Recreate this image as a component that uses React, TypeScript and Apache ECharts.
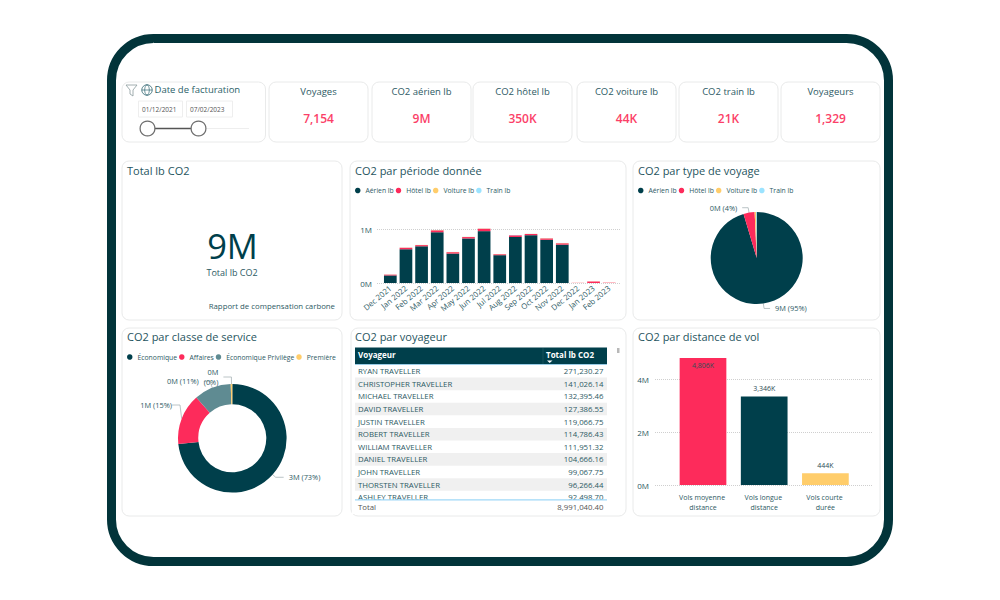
import React, { useEffect, useRef } from "react";
import * as echarts from "echarts";

const FONT = "'Open Sans', sans-serif";
const DARK = "#003f4b";
const PINK = "#fd2b5b";
const GOLD = "#ffcd6b";
const SKY = "#9be3ff";
const SLATE = "#5f8b92";
const TXT = "#2d5a64";
const FRAME = "#02343a";

const kpiNames = ["Voyages", "CO2 aérien lb", "CO2 hôtel lb", "CO2 voiture lb", "CO2 train lb", "Voyageurs"];
const kpiValues = ["7,154", "9M", "350K", "44K", "21K", "1,329"];
const kpiLefts = [269, 372, 473, 577, 679, 781];

const months = ["Dec 2021", "Jan 2022", "Feb 2022", "Mar 2022", "Apr 2022", "May 2022", "Jun 2022", "Jul 2022", "Aug 2022", "Sep 2022", "Oct 2022", "Nov 2022", "Dec 2022", "Jan 2023", "Feb 2023"];
const airM = [0.14, 0.625, 0.68, 0.94, 0.545, 0.825, 0.96, 0.515, 0.85, 0.885, 0.8, 0.71, 0, 0, 0];
const hotelM = [0.015, 0.028, 0.022, 0.036, 0.026, 0.026, 0.045, 0.018, 0.032, 0.022, 0.026, 0.026, 0.003, 0.028, 0.006];
const carM = [0.002, 0.003, 0.003, 0.004, 0.003, 0.003, 0.004, 0.003, 0.003, 0.003, 0.004, 0.004, 0.001, 0.001, 0.001];
const trainM = [0.001, 0.002, 0.001, 0.002, 0.002, 0.002, 0.002, 0.001, 0.002, 0.002, 0.002, 0.002, 0, 0, 0];

const tripNames = ["Aérien lb", "Hôtel lb", "Voiture lb", "Train lb"];
const tripValues = [8.576, 0.35, 0.044, 0.021];

const classNames = ["Économique", "Affaires", "Économique Privilège", "Première"];
const classValues = [2.85, 0.59, 0.43, 0.018];

const distNames = ["Vols moyenne distance", "Vols longue distance", "Vols courte durée"];
const distValues = [4.806, 3.346, 0.444];

const travellers = ["RYAN TRAVELLER", "CHRISTOPHER TRAVELLER", "MICHAEL TRAVELLER", "DAVID TRAVELLER", "JUSTIN TRAVELLER", "ROBERT TRAVELLER", "WILLIAM TRAVELLER", "DANIEL TRAVELLER", "JOHN TRAVELLER", "THORSTEN TRAVELLER", "ASHLEY TRAVELLER"];
const travellerCO2 = ["271,230.27", "141,026.14", "132,395.46", "127,386.55", "119,066.75", "114,786.43", "111,951.32", "104,666.16", "99,067.75", "96,266.44", "92,498.70"];

const txt = (text: string, x: number, y: number, o: any = {}) => ({
  type: "text", x, y, z: o.z ?? 10,
  style: { text, fill: o.fill ?? TXT, fontFamily: FONT, fontSize: o.size ?? 8, fontWeight: o.weight ?? "normal", align: o.align ?? "left", verticalAlign: "middle", lineHeight: o.lineHeight },
});
const card = (x: number, y: number, w: number, h: number) => ({
  type: "rect", z: -5, shape: { x, y, width: w, height: h, r: 7 },
  style: { fill: "#fff", stroke: "#e9eaea", lineWidth: 1 },
});

function buildGraphic() {
  const els: any[] = [];
  els.push({ type: "rect", z: -10, shape: { x: 111.5, y: 38.5, width: 777, height: 523, r: 42 }, style: { fill: "#fff", stroke: FRAME, lineWidth: 9 } });
  els.push(card(122, 82, 143.5, 60));
  kpiNames.forEach((n, i) => {
    const x = kpiLefts[i];
    els.push(card(x, 82, 99, 60));
    els.push(txt(n, x + 49.5, 91, { align: "center", size: 9.5 }));
    els.push(txt(kpiValues[i], x + 49.5, 118.5, { align: "center", size: 12, fill: "#fb3f68", weight: 600 }));
  });
  els.push(card(122, 161, 220, 159), card(350, 161, 276, 159), card(633, 161, 247, 159));
  els.push(card(122, 328, 220, 188), card(351, 328, 275, 188), card(633, 328, 247, 188));

  // filter slicer
  els.push({ type: "polygon", z: 10, shape: { points: [[126, 85], [137, 85], [133, 90], [133, 96], [130, 94], [130, 90]] }, style: { fill: "#fff", stroke: "#8a9a9d", lineWidth: 0.8 } });
  els.push({ type: "circle", z: 10, shape: { cx: 147, cy: 90, r: 5.2 }, style: { fill: "#fff", stroke: "#356a75", lineWidth: 0.9 } });
  els.push({ type: "ellipse", z: 10, shape: { cx: 147, cy: 90, rx: 2.3, ry: 5.2 }, style: { fill: "none", stroke: "#356a75", lineWidth: 0.7 } });
  els.push({ type: "line", z: 10, shape: { x1: 142, y1: 90, x2: 152, y2: 90 }, style: { stroke: "#356a75", lineWidth: 0.7 } });
  els.push(txt("Date de facturation", 154.5, 89.5, { size: 9.5, fill: "#2b5f69", weight: 500 }));
  els.push({ type: "rect", z: 10, shape: { x: 138.5, y: 101, width: 44, height: 16 }, style: { fill: "#fff", stroke: "#eeeeee", lineWidth: 1 } });
  els.push({ type: "rect", z: 10, shape: { x: 186.5, y: 101, width: 46, height: 16 }, style: { fill: "#fff", stroke: "#eeeeee", lineWidth: 1 } });
  els.push(txt("01/12/2021", 142, 109.5, { size: 6.5, fill: "#555" }));
  els.push(txt("07/02/2023", 190, 109.5, { size: 6.5, fill: "#555" }));
  els.push({ type: "line", z: 10, shape: { x1: 147, y1: 128.5, x2: 249, y2: 128.5 }, style: { stroke: "#eeeeee", lineWidth: 1.2 } });
  els.push({ type: "line", z: 10, shape: { x1: 147, y1: 128.5, x2: 198, y2: 128.5 }, style: { stroke: "#555", lineWidth: 1.4 } });
  [147.5, 198.5].forEach((cx) => els.push({ type: "circle", z: 11, shape: { cx, cy: 128.5, r: 7.4 }, style: { fill: "#fff", stroke: "#6b6b6b", lineWidth: 1.2 } }));

  // total card
  els.push(txt("9M", 232.5, 245, { size: 34.5, align: "center", fill: DARK, weight: 500, lineHeight: 28 }));
  els.push(txt("Total lb CO2", 232, 272.5, { size: 9, align: "center" }));
  els.push(txt("Rapport de compensation carbone", 335, 305.5, { size: 7.8, align: "right" }));

  // table
  els.push({ type: "rect", z: 9, shape: { x: 355, y: 347.5, width: 252, height: 17 }, style: { fill: DARK } });
  els.push({ type: "line", z: 9, shape: { x1: 355, y1: 364.5, x2: 607, y2: 364.5 }, style: { stroke: "#9fd8f7", lineWidth: 0.8 } });
  els.push({ type: "line", z: 10, shape: { x1: 543, y1: 348, x2: 543, y2: 364 }, style: { stroke: "#1d5560", lineWidth: 0.8 } });
  els.push(txt("Voyageur", 358, 354, { size: 8, fill: "#fff", weight: 700 }));
  els.push(txt("Total lb CO2", 546, 354, { size: 8, fill: "#fff", weight: 700 }));
  els.push({ type: "polygon", z: 10, shape: { points: [[547, 360.5], [552.5, 360.5], [549.7, 363]] }, style: { fill: "#fff" } });
  travellers.forEach((n, i) => {
    const y = 371.3 + i * 12.58;
    if (i % 2 === 1) els.push({ type: "rect", z: 8, shape: { x: 355, y: y - 6.3, width: 252, height: 12.6 }, style: { fill: "#f0f0f0" } });
    els.push(txt(n, 358, y, { size: 7.8 }));
    els.push(txt(travellerCO2[i], 603.5, y, { size: 7.8, align: "right" }));
  });
  els.push({ type: "rect", z: 12, shape: { x: 352, y: 500, width: 260, height: 14 }, style: { fill: "#fff" } });
  els.push({ type: "line", z: 13, shape: { x1: 355, y1: 499.8, x2: 607, y2: 499.8 }, style: { stroke: "#9fd8f7", lineWidth: 1.2 } });
  els.push(txt("Total", 358, 507, { size: 7.8, fill: "#555", z: 13 }));
  els.push(txt("8,991,040.40", 603.5, 507, { size: 7.8, align: "right", fill: "#555", z: 13 }));
  els.push({ type: "rect", z: 10, shape: { x: 617, y: 348, width: 2.5, height: 5 }, style: { fill: "#b8b8b8" } });
  return els;
}

const legendBase = {
  orient: "horizontal", padding: 0, itemWidth: 5.5, itemHeight: 5.5, itemGap: 2, icon: "circle", selectedMode: false,
  textStyle: { color: TXT, fontFamily: FONT, fontSize: 6.8 },
};
const dotted = { show: true, lineStyle: { type: "dotted", color: "#cfcfcf", width: 1 } };
const axisText = { color: TXT, fontFamily: FONT, fontSize: 8 };
const fmtM = (v: number) => `${v}M`;
const titleAt = (text: string, left: number, top: number) => ({
  text, left, top, padding: 0, textStyle: { color: "#1f5560", fontFamily: FONT, fontSize: 11, fontWeight: 500 },
});
const pieLabel = (p: any) => {
  const a = Math.round(p.value), b = Math.round(p.percent);
  return p.percent < 1 ? `${a}M\n(${b}%)` : `${a}M (${b}%)`;
};
const pieLabelStyle = { color: TXT, fontFamily: FONT, fontSize: 7.4, alignTo: "none" };

function buildOption() {
  const stack = [airM, hotelM, carM, trainM];
  const colors = [DARK, PINK, GOLD, SKY];
  return {
    animation: false,
    graphic: { elements: buildGraphic() },
    title: [
      titleAt("Total lb CO2", 127, 165),
      titleAt("CO2 par période donnée", 355, 165),
      titleAt("CO2 par type de voyage", 638, 165),
      titleAt("CO2 par classe de service", 127, 331),
      titleAt("CO2 par voyageur", 355, 331),
      titleAt("CO2 par distance de vol", 638, 331),
    ],
    legend: [
      { ...legendBase, left: 355, top: 187, data: tripNames },
      { ...legendBase, left: 638, top: 187, data: tripNames },
      { ...legendBase, left: 127, top: 353.5, data: classNames },
    ],
    grid: [
      { left: 382.5, width: 234.5, top: 218.2, height: 64.8 },
      { left: 377, width: 243, top: 218.2, height: 64.8 },
      { left: 672.4, width: 183.6, top: 352.75, height: 132.25 },
      { left: 655, width: 218, top: 352.75, height: 132.25 },
    ],
    xAxis: [
      { type: "category", gridIndex: 0, data: months, axisLine: { show: false }, axisTick: { show: false },
        axisLabel: { ...axisText, fontSize: 7.8, rotate: 40, interval: 0, margin: 4 } },
      { type: "category", gridIndex: 1, show: false, data: [] },
      { type: "category", gridIndex: 2, data: distNames, axisLine: { show: false }, axisTick: { show: false },
        axisLabel: { ...axisText, fontSize: 7, interval: 0, width: 50, overflow: "break", margin: 7, lineHeight: 10 } },
      { type: "category", gridIndex: 3, show: false, data: [] },
    ],
    yAxis: [
      { type: "value", gridIndex: 0, show: false, min: 0, max: 1.2, interval: 1 },
      { type: "value", gridIndex: 1, min: 0, max: 1.2, interval: 1, axisLine: { show: false }, axisTick: { show: false },
        splitLine: { ...dotted, showMaxLine: false }, axisLabel: { ...axisText, margin: 5, formatter: fmtM, showMaxLabel: false } },
      { type: "value", gridIndex: 2, show: false, min: 0, max: 5, interval: 2 },
      { type: "value", gridIndex: 3, min: 0, max: 5, interval: 2, axisLine: { show: false }, axisTick: { show: false },
        splitLine: { ...dotted, showMaxLine: false }, axisLabel: { ...axisText, margin: 6, formatter: fmtM, showMaxLabel: false } },
    ],
    series: [
      ...tripNames.map((name, i) => ({
        type: "bar", name, stack: "co2", xAxisIndex: 0, yAxisIndex: 0, barWidth: 12.7, data: stack[i], itemStyle: { color: colors[i] },
      })),
      {
        type: "bar", xAxisIndex: 2, yAxisIndex: 2, barWidth: 46.7, name: "Distance",
        data: distValues.map((value, i) => ({
          value, itemStyle: { color: [PINK, DARK, GOLD][i] },
          label: { position: i === 0 ? "insideTop" : "top", distance: 4 },
        })),
        label: { show: true, color: "#2d4d55", fontFamily: FONT, fontSize: 7,
          formatter: (p: any) => `${Math.round(p.value * 1000).toLocaleString("en-US")}K` },
      },
      {
        type: "pie", center: [756.7, 258], radius: [0, 46], startAngle: 90, clockwise: true, avoidLabelOverlap: false,
        data: tripNames.map((name, i) => ({
          name, value: tripValues[i], itemStyle: { color: colors[i] },
          label: { show: i < 2 }, labelLine: { show: i < 2 },
        })),
        label: { ...pieLabelStyle, formatter: pieLabel },
        labelLine: { length: 5, length2: 6, lineStyle: { color: "#aab5b7", width: 0.8 } },
        emphasis: { disabled: true },
      },
      {
        type: "pie", center: [232.3, 438.3], radius: [34, 54.3], startAngle: 90, clockwise: true, avoidLabelOverlap: false,
        data: classNames.map((name, i) => ({
          name, value: classValues[i], itemStyle: { color: [DARK, PINK, SLATE, GOLD][i] },
          labelLine: { length: [4, 4, 7, 7][i], length2: [8, 8, 6, 8][i] },
        })),
        label: { ...pieLabelStyle, formatter: pieLabel, lineHeight: 10 },
        labelLine: { lineStyle: { color: "#aab5b7", width: 0.8 } },
        labelLayout: (p: any) => (p.dataIndex === 1 ? { x: 172, y: 405, align: "right", verticalAlign: "middle" } : {}),
        emphasis: { disabled: true },
      },
    ],
  };
}

export default function App() {
  const ref = useRef<HTMLDivElement>(null);
  useEffect(() => {
    document.body.style.margin = "0";
    const chart = echarts.init(ref.current!, undefined, { renderer: "svg" });
    chart.setOption(buildOption() as any);
    return () => chart.dispose();
  }, []);
  return <div ref={ref} style={{ width: 1000, height: 600, background: "#fff" }} />;
}
